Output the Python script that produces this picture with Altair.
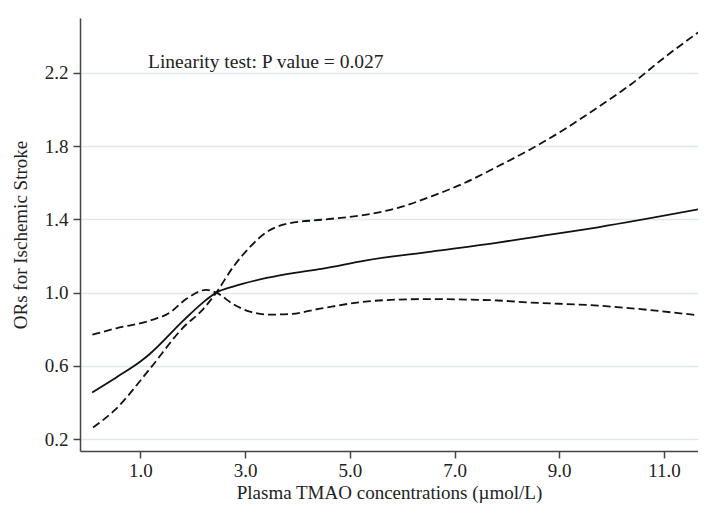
import altair as alt
import pandas as pd

# Central estimate (solid line)
est_x = [0.08, 0.54, 1.02, 1.18, 1.82, 2.20, 2.45, 2.77, 3.41, 4.01, 4.46, 5.29, 6.56, 7.83, 8.39, 9.74, 11.72]
est_y = [0.455, 0.537, 0.628, 0.665, 0.847, 0.947, 1.0, 1.033, 1.08, 1.111, 1.13, 1.175, 1.224, 1.273, 1.298, 1.357, 1.458]

# Confidence limit starting high on the left (dashed)
ci1_x = [0.085, 0.54, 1.18, 1.56, 1.88, 2.26, 2.45, 2.77, 3.09, 3.47, 3.85, 4.46, 5.29, 5.92, 6.56, 7.2, 7.83, 8.39, 9.74, 11.72]
ci1_y = [0.77, 0.805, 0.847, 0.89, 0.966, 1.015, 1.0, 0.938, 0.896, 0.88, 0.883, 0.914, 0.951, 0.962, 0.965, 0.962, 0.957, 0.947, 0.929, 0.874]

# Confidence limit starting low on the left (dashed)
ci2_x = [0.097, 0.51, 1.18, 1.82, 2.2, 2.45, 2.77, 3.09, 3.41, 3.85, 4.46, 5.29, 5.92, 6.56, 7.2, 7.83, 8.47, 9.11, 9.74, 10.38, 11.02, 11.72]
ci2_y = [0.263, 0.358, 0.583, 0.81, 0.91, 1.0, 1.139, 1.248, 1.33, 1.379, 1.398, 1.425, 1.463, 1.526, 1.600, 1.690, 1.786, 1.894, 2.013, 2.14, 2.287, 2.435]

x_ticks = [1, 3, 5, 7, 9, 11]
y_ticks = [0.2, 0.6, 1.0, 1.4, 1.8, 2.2]
annotation = "Linearity test: P value = 0.027"
x_title = "Plasma TMAO concentrations (\u00b5mol/L)"
y_title = "ORs for Ischemic Stroke"

FONT = "Liberation Serif"

est = pd.DataFrame({"x": est_x, "y": est_y})
ci1 = pd.DataFrame({"x": ci1_x, "y": ci1_y})
ci2 = pd.DataFrame({"x": ci2_x, "y": ci2_y})

xs = alt.Scale(domain=[-0.152, 11.65], nice=False, zero=False)
ys = alt.Scale(domain=[0.135, 2.5], nice=False, zero=False)

xax = alt.Axis(values=x_ticks, format=".1f", grid=False, title=x_title,
               labelFont=FONT, labelFontSize=19, labelColor="#222",
               titleFont=FONT, titleFontSize=19, titleColor="#222", titleFontWeight="normal",
               tickColor="#444", tickSize=7, tickWidth=1.5, domainColor="#444", domainWidth=1.5,
               labelPadding=3, titlePadding=3)
yax = alt.Axis(values=y_ticks, format=".1f", grid=True, gridColor="#dce9ef", gridWidth=1.5,
               title=y_title,
               labelFont=FONT, labelFontSize=19, labelColor="#222",
               titleFont=FONT, titleFontSize=19, titleColor="#222", titleFontWeight="normal",
               tickColor="#444", tickSize=7, tickWidth=1.5, domainColor="#444", domainWidth=1.5,
               labelPadding=5, titlePadding=14)

base_enc = dict(x=alt.X("x:Q", scale=xs, axis=xax), y=alt.Y("y:Q", scale=ys, axis=yax))

l_est = alt.Chart(est).mark_line(color="#111", strokeWidth=1.8, interpolate="monotone", clip=True).encode(**base_enc)
l_ci1 = alt.Chart(ci1).mark_line(color="#111", strokeWidth=1.8, strokeDash=[8, 4], interpolate="monotone", clip=True).encode(**base_enc)
l_ci2 = alt.Chart(ci2).mark_line(color="#111", strokeWidth=1.8, strokeDash=[8, 4], interpolate="monotone", clip=True).encode(**base_enc)

txt = alt.Chart(pd.DataFrame({"t": [annotation]})).mark_text(
    align="left", baseline="alphabetic", font=FONT, fontSize=19.5, color="#222"
).encode(text="t:N", x=alt.value(68), y=alt.value(50))

chart = alt.layer(l_est, l_ci1, l_ci2, txt).properties(
    width=618, height=433, autosize="none",
    padding={"left": 72, "top": 10, "right": 0, "bottom": 54},
).configure_view(stroke=None)

chart.save("out.html", embed_options={"renderer": "svg", "actions": False})
